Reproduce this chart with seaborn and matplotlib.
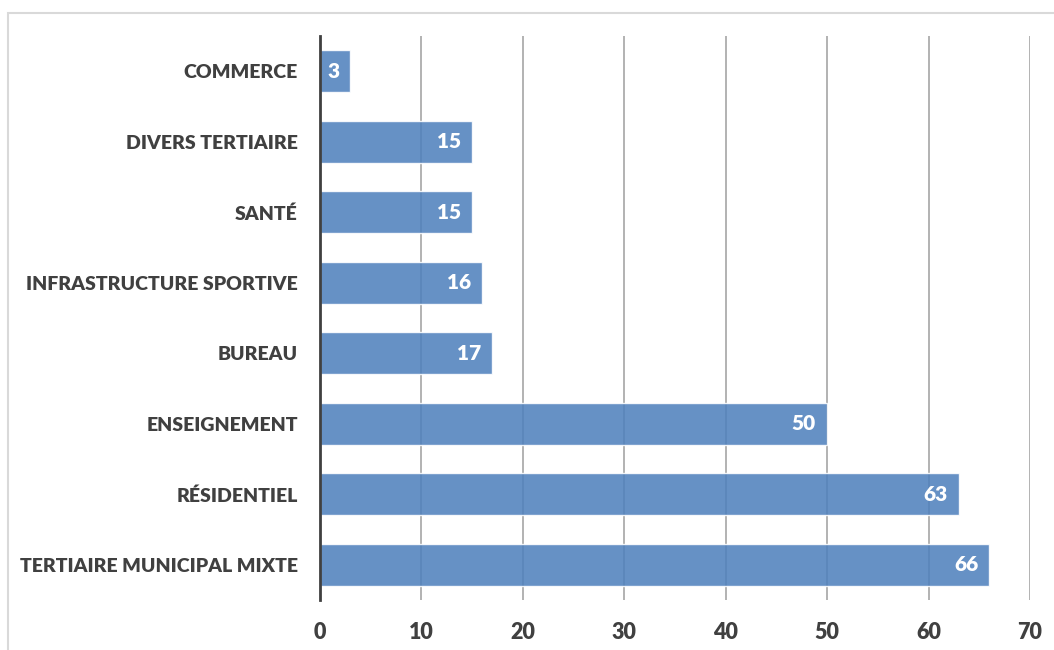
import pandas as pd
import seaborn as sns
import matplotlib.pyplot as plt
from matplotlib.patches import Rectangle

# data
categories = ['COMMERCE', 'DIVERS TERTIAIRE', 'SANTÉ', 'INFRASTRUCTURE SPORTIVE',
              'BUREAU', 'ENSEIGNEMENT', 'RÉSIDENTIEL', 'TERTIAIRE MUNICIPAL MIXTE']
values = [3, 15, 15, 16, 17, 50, 63, 66]
x_ticks = [0, 10, 20, 30, 40, 50, 60, 70]

df = pd.DataFrame({'cat': categories, 'val': values})

sns.set_style('white')
plt.rcParams['font.family'] = ['Lato', 'DejaVu Sans']

fig = plt.figure(figsize=(10.54, 6.5), dpi=100)
ax = fig.add_axes([0.3036, 0.0769, 0.6736, 0.8677])

# light frame around the chart
fig.patches.append(Rectangle((8 / 1054, -0.1), 1.2, 0.98 + 0.1, transform=fig.transFigure,
                             fill=False, edgecolor='#d9d9d9', lw=1.5))

sns.barplot(data=df, x='val', y='cat', orient='h', color='#4f81bd', saturation=1,
            alpha=0.87, width=0.6, ax=ax)

ax.set_xlim(0, 70)
ax.set_ylim(7.5, -0.5)
ax.set_xticks(x_ticks)
ax.set_axisbelow(True)
ax.grid(axis='x', color='#a6a6a6', lw=1.2)
ax.grid(axis='y', visible=False)

for s in ['top', 'right', 'bottom']:
    ax.spines[s].set_visible(False)
ax.spines['left'].set_color('#404040')
ax.spines['left'].set_linewidth(2)

ax.set_xlabel('')
ax.set_ylabel('')
ax.tick_params(axis='y', length=0, pad=16, labelsize=14, labelcolor='#404040')
ax.tick_params(axis='x', length=0, pad=16, labelsize=15.5, labelcolor='#404040')
for lbl in ax.get_yticklabels() + ax.get_xticklabels():
    lbl.set_fontweight('heavy')

# value labels inside bar ends
for i, v in enumerate(values):
    ax.text(v - 1.1, i, str(v), ha='right', va='center', color='white',
            fontsize=15, fontweight='heavy')

fig.savefig('out.png', dpi=100)
